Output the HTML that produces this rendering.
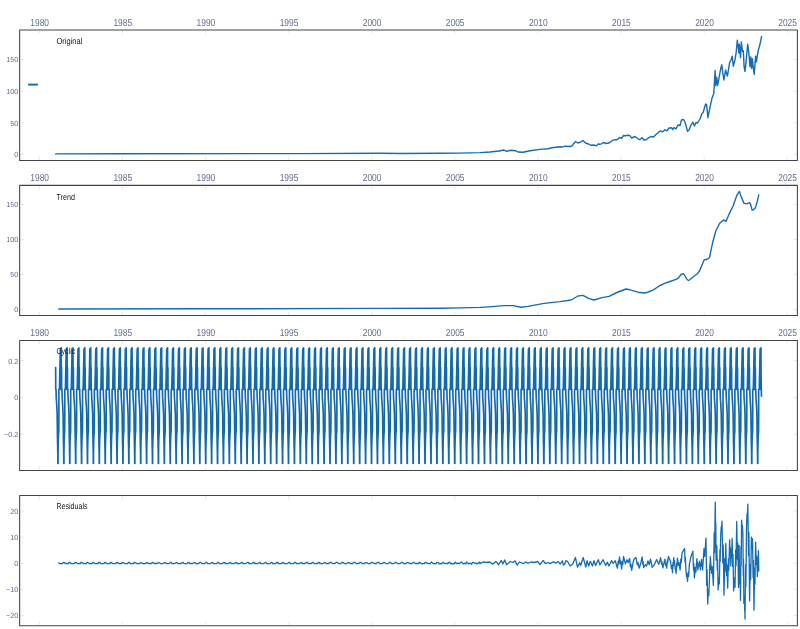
<!DOCTYPE html>
<html lang="en"><head><meta charset="utf-8"><title>Decomposition</title>
<style>
html,body{margin:0;padding:0;background:#fff;}
body{width:800px;height:629px;overflow:hidden;font-family:"Liberation Sans",sans-serif;}
svg{display:block}
svg text{font-family:"Liberation Sans",sans-serif;text-rendering:geometricPrecision;}
.tx text{font-size:10.2px;fill:#626d8c;}
.ty text{font-size:7.4px;fill:#626d8c;}
.an{font-size:8.7px;fill:#151515;}
</style></head><body>
<svg width="800" height="629" viewBox="0 0 800 629"><rect width="800" height="629" fill="#fff"/><g stroke="#e6e9f0" stroke-width="1" fill="none"><line x1="39.40" y1="30.50" x2="39.40" y2="33.70"/><line x1="39.40" y1="159.90" x2="39.40" y2="156.70"/><line x1="122.50" y1="30.50" x2="122.50" y2="33.70"/><line x1="122.50" y1="159.90" x2="122.50" y2="156.70"/><line x1="205.60" y1="30.50" x2="205.60" y2="33.70"/><line x1="205.60" y1="159.90" x2="205.60" y2="156.70"/><line x1="288.70" y1="30.50" x2="288.70" y2="33.70"/><line x1="288.70" y1="159.90" x2="288.70" y2="156.70"/><line x1="371.80" y1="30.50" x2="371.80" y2="33.70"/><line x1="371.80" y1="159.90" x2="371.80" y2="156.70"/><line x1="454.90" y1="30.50" x2="454.90" y2="33.70"/><line x1="454.90" y1="159.90" x2="454.90" y2="156.70"/><line x1="538.00" y1="30.50" x2="538.00" y2="33.70"/><line x1="538.00" y1="159.90" x2="538.00" y2="156.70"/><line x1="621.10" y1="30.50" x2="621.10" y2="33.70"/><line x1="621.10" y1="159.90" x2="621.10" y2="156.70"/><line x1="704.20" y1="30.50" x2="704.20" y2="33.70"/><line x1="704.20" y1="159.90" x2="704.20" y2="156.70"/><line x1="787.30" y1="30.50" x2="787.30" y2="33.70"/><line x1="787.30" y1="159.90" x2="787.30" y2="156.70"/><line x1="20.15" y1="154.40" x2="23.85" y2="154.40"/><line x1="796.90" y1="154.40" x2="793.20" y2="154.40"/><line x1="20.15" y1="122.74" x2="23.85" y2="122.74"/><line x1="796.90" y1="122.74" x2="793.20" y2="122.74"/><line x1="20.15" y1="91.07" x2="23.85" y2="91.07"/><line x1="796.90" y1="91.07" x2="793.20" y2="91.07"/><line x1="20.15" y1="59.41" x2="23.85" y2="59.41"/><line x1="796.90" y1="59.41" x2="793.20" y2="59.41"/></g><path d="M55.60,153.90 L124.00,153.70 L300.00,153.60 L380.00,153.30 L400.00,153.50 L440.00,153.30 L460.00,153.10 L480.00,152.60 L490.00,152.00 L499.00,151.00 L504.00,150.00 L506.50,151.30 L511.00,150.30 L515.50,150.70 L518.00,152.00 L523.00,152.20 L530.00,150.80 L540.00,149.40 L548.00,148.80 L552.00,147.80 L560.00,146.80 L562.00,147.20 L565.00,146.20 L570.00,146.50 L572.00,145.80 L575.50,141.50 L577.80,143.00 L580.50,142.20 L583.00,140.50 L585.50,143.00 L588.50,144.00 L591.00,145.30 L594.00,145.00 L596.50,145.80 L598.50,143.80 L600.00,144.50 L603.50,142.50 L606.00,143.50 L609.00,143.00 L612.00,140.70 L615.00,139.70 L617.00,139.80 L619.50,137.50 L621.50,138.30 L623.50,135.50 L625.50,135.80 L628.00,135.30 L630.00,135.60 L631.50,138.00 L635.00,136.50 L637.00,138.00 L639.50,139.80 L642.00,137.80 L644.00,140.00 L646.50,139.50 L648.50,137.80 L651.00,136.50 L653.50,137.00 L656.50,134.00 L660.50,130.80 L662.50,132.00 L665.00,129.80 L667.00,130.80 L669.00,128.00 L671.50,127.80 L672.80,129.50 L674.00,127.50 L676.00,128.80 L678.00,125.00 L680.00,125.50 L681.50,120.00 L683.50,119.50 L685.00,122.00 L687.50,131.20 L689.00,130.00 L691.00,125.00 L693.00,122.20 L694.50,126.00 L696.00,122.50 L697.50,123.00 L700.00,119.00 L702.00,113.60 L703.20,112.20 L705.60,104.00 L706.60,104.60 L707.90,117.80 L709.50,109.60 L712.00,98.20 L713.80,93.40 L715.10,70.50 L715.70,85.80 L716.70,77.20 L717.60,85.30 L718.60,80.50 L720.50,69.50 L721.80,64.80 L722.70,72.40 L723.90,80.00 L725.60,70.00 L727.40,76.10 L729.80,61.80 L731.00,60.20 L732.20,56.20 L733.30,66.20 L734.90,60.20 L736.10,53.00 L737.30,40.30 L738.10,45.90 L738.90,53.00 L739.30,44.30 L740.50,57.80 L741.30,41.90 L742.50,51.50 L743.30,50.70 L744.10,66.60 L745.00,71.30 L745.80,64.20 L747.70,44.30 L748.80,52.30 L750.00,66.60 L750.80,57.00 L751.60,68.20 L752.40,58.60 L753.20,67.40 L754.20,74.50 L755.60,56.20 L756.40,61.80 L757.20,56.20 L758.40,49.90 L760.00,44.30 L761.60,36.40" fill="none" stroke="#166cb1" stroke-width="1.4" stroke-linejoin="round" stroke-linecap="round"/><rect x="19.65" y="29.9" width="777.75" height="130.6" fill="none" stroke="#444444" stroke-width="1.05" stroke-linejoin="round"/><g class="tx"><text x="39.70" y="26" text-anchor="middle" textLength="18.7" lengthAdjust="spacingAndGlyphs">1980</text><text x="122.80" y="26" text-anchor="middle" textLength="18.7" lengthAdjust="spacingAndGlyphs">1985</text><text x="205.90" y="26" text-anchor="middle" textLength="18.7" lengthAdjust="spacingAndGlyphs">1990</text><text x="289.00" y="26" text-anchor="middle" textLength="18.7" lengthAdjust="spacingAndGlyphs">1995</text><text x="372.10" y="26" text-anchor="middle" textLength="18.7" lengthAdjust="spacingAndGlyphs">2000</text><text x="455.20" y="26" text-anchor="middle" textLength="18.7" lengthAdjust="spacingAndGlyphs">2005</text><text x="538.30" y="26" text-anchor="middle" textLength="18.7" lengthAdjust="spacingAndGlyphs">2010</text><text x="621.40" y="26" text-anchor="middle" textLength="18.7" lengthAdjust="spacingAndGlyphs">2015</text><text x="704.50" y="26" text-anchor="middle" textLength="18.7" lengthAdjust="spacingAndGlyphs">2020</text><text x="787.60" y="26" text-anchor="middle" textLength="18.7" lengthAdjust="spacingAndGlyphs">2025</text></g><g class="ty"><text x="18.15" y="157" text-anchor="end" textLength="4.00" lengthAdjust="spacingAndGlyphs">0</text><text x="18.15" y="126" text-anchor="end" textLength="8.00" lengthAdjust="spacingAndGlyphs">50</text><text x="18.15" y="94" text-anchor="end" textLength="12.00" lengthAdjust="spacingAndGlyphs">100</text><text x="18.15" y="62" text-anchor="end" textLength="12.00" lengthAdjust="spacingAndGlyphs">150</text></g><text class="an" x="56.5" y="44" textLength="25.8" lengthAdjust="spacingAndGlyphs">Original</text><g stroke="#e6e9f0" stroke-width="1" fill="none"><line x1="39.40" y1="185.95" x2="39.40" y2="189.15"/><line x1="39.40" y1="314.90" x2="39.40" y2="311.70"/><line x1="122.50" y1="185.95" x2="122.50" y2="189.15"/><line x1="122.50" y1="314.90" x2="122.50" y2="311.70"/><line x1="205.60" y1="185.95" x2="205.60" y2="189.15"/><line x1="205.60" y1="314.90" x2="205.60" y2="311.70"/><line x1="288.70" y1="185.95" x2="288.70" y2="189.15"/><line x1="288.70" y1="314.90" x2="288.70" y2="311.70"/><line x1="371.80" y1="185.95" x2="371.80" y2="189.15"/><line x1="371.80" y1="314.90" x2="371.80" y2="311.70"/><line x1="454.90" y1="185.95" x2="454.90" y2="189.15"/><line x1="454.90" y1="314.90" x2="454.90" y2="311.70"/><line x1="538.00" y1="185.95" x2="538.00" y2="189.15"/><line x1="538.00" y1="314.90" x2="538.00" y2="311.70"/><line x1="621.10" y1="185.95" x2="621.10" y2="189.15"/><line x1="621.10" y1="314.90" x2="621.10" y2="311.70"/><line x1="704.20" y1="185.95" x2="704.20" y2="189.15"/><line x1="704.20" y1="314.90" x2="704.20" y2="311.70"/><line x1="787.30" y1="185.95" x2="787.30" y2="189.15"/><line x1="787.30" y1="314.90" x2="787.30" y2="311.70"/><line x1="20.15" y1="309.40" x2="23.85" y2="309.40"/><line x1="796.90" y1="309.40" x2="793.20" y2="309.40"/><line x1="20.15" y1="274.40" x2="23.85" y2="274.40"/><line x1="796.90" y1="274.40" x2="793.20" y2="274.40"/><line x1="20.15" y1="239.40" x2="23.85" y2="239.40"/><line x1="796.90" y1="239.40" x2="793.20" y2="239.40"/><line x1="20.15" y1="204.40" x2="23.85" y2="204.40"/><line x1="796.90" y1="204.40" x2="793.20" y2="204.40"/></g><path d="M58.80,309.00 L200.00,308.80 L380.00,308.40 L440.00,308.20 L460.00,307.90 L480.00,307.40 L492.00,306.60 L504.00,305.60 L513.00,305.60 L521.00,307.20 L528.00,306.40 L544.00,303.40 L560.00,301.60 L571.00,300.00 L578.00,296.00 L583.00,295.40 L589.00,298.60 L594.00,300.00 L602.00,297.60 L609.00,296.40 L618.00,292.00 L626.00,289.00 L630.00,289.80 L638.00,292.20 L644.00,293.00 L647.00,292.50 L653.00,290.20 L660.00,285.50 L664.00,283.70 L670.00,281.50 L676.00,279.30 L678.50,277.80 L681.00,274.50 L683.20,273.70 L684.50,275.00 L687.00,279.50 L688.50,280.50 L690.00,279.50 L695.00,275.50 L697.50,273.70 L699.50,271.00 L702.00,265.00 L704.00,260.30 L705.00,259.50 L707.00,259.50 L709.50,257.50 L712.70,242.30 L715.90,230.80 L719.70,223.20 L723.50,220.00 L726.10,221.30 L729.30,213.60 L733.10,206.00 L736.90,195.20 L739.40,191.40 L741.30,197.10 L743.90,203.10 L746.40,203.80 L749.60,202.60 L750.90,205.40 L752.20,210.20 L753.40,209.80 L755.30,207.90 L757.30,201.50 L758.80,194.90" fill="none" stroke="#166cb1" stroke-width="1.4" stroke-linejoin="round" stroke-linecap="round"/><rect x="19.65" y="185.35" width="777.75" height="130.15" fill="none" stroke="#444444" stroke-width="1.05" stroke-linejoin="round"/><g class="tx"><text x="39.70" y="181" text-anchor="middle" textLength="18.7" lengthAdjust="spacingAndGlyphs">1980</text><text x="122.80" y="181" text-anchor="middle" textLength="18.7" lengthAdjust="spacingAndGlyphs">1985</text><text x="205.90" y="181" text-anchor="middle" textLength="18.7" lengthAdjust="spacingAndGlyphs">1990</text><text x="289.00" y="181" text-anchor="middle" textLength="18.7" lengthAdjust="spacingAndGlyphs">1995</text><text x="372.10" y="181" text-anchor="middle" textLength="18.7" lengthAdjust="spacingAndGlyphs">2000</text><text x="455.20" y="181" text-anchor="middle" textLength="18.7" lengthAdjust="spacingAndGlyphs">2005</text><text x="538.30" y="181" text-anchor="middle" textLength="18.7" lengthAdjust="spacingAndGlyphs">2010</text><text x="621.40" y="181" text-anchor="middle" textLength="18.7" lengthAdjust="spacingAndGlyphs">2015</text><text x="704.50" y="181" text-anchor="middle" textLength="18.7" lengthAdjust="spacingAndGlyphs">2020</text><text x="787.60" y="181" text-anchor="middle" textLength="18.7" lengthAdjust="spacingAndGlyphs">2025</text></g><g class="ty"><text x="18.15" y="312" text-anchor="end" textLength="4.00" lengthAdjust="spacingAndGlyphs">0</text><text x="18.15" y="277" text-anchor="end" textLength="8.00" lengthAdjust="spacingAndGlyphs">50</text><text x="18.15" y="242" text-anchor="end" textLength="12.00" lengthAdjust="spacingAndGlyphs">100</text><text x="18.15" y="207" text-anchor="end" textLength="12.00" lengthAdjust="spacingAndGlyphs">150</text></g><text class="an" x="56.5" y="200" textLength="18.4" lengthAdjust="spacingAndGlyphs">Trend</text><g stroke="#e6e9f0" stroke-width="1" fill="none"><line x1="39.40" y1="341.05" x2="39.40" y2="344.25"/><line x1="39.40" y1="469.95" x2="39.40" y2="466.75"/><line x1="122.50" y1="341.05" x2="122.50" y2="344.25"/><line x1="122.50" y1="469.95" x2="122.50" y2="466.75"/><line x1="205.60" y1="341.05" x2="205.60" y2="344.25"/><line x1="205.60" y1="469.95" x2="205.60" y2="466.75"/><line x1="288.70" y1="341.05" x2="288.70" y2="344.25"/><line x1="288.70" y1="469.95" x2="288.70" y2="466.75"/><line x1="371.80" y1="341.05" x2="371.80" y2="344.25"/><line x1="371.80" y1="469.95" x2="371.80" y2="466.75"/><line x1="454.90" y1="341.05" x2="454.90" y2="344.25"/><line x1="454.90" y1="469.95" x2="454.90" y2="466.75"/><line x1="538.00" y1="341.05" x2="538.00" y2="344.25"/><line x1="538.00" y1="469.95" x2="538.00" y2="466.75"/><line x1="621.10" y1="341.05" x2="621.10" y2="344.25"/><line x1="621.10" y1="469.95" x2="621.10" y2="466.75"/><line x1="704.20" y1="341.05" x2="704.20" y2="344.25"/><line x1="704.20" y1="469.95" x2="704.20" y2="466.75"/><line x1="787.30" y1="341.05" x2="787.30" y2="344.25"/><line x1="787.30" y1="469.95" x2="787.30" y2="466.75"/><line x1="20.15" y1="434.40" x2="23.85" y2="434.40"/><line x1="796.90" y1="434.40" x2="793.20" y2="434.40"/><line x1="20.15" y1="397.40" x2="23.85" y2="397.40"/><line x1="796.90" y1="397.40" x2="793.20" y2="397.40"/><line x1="20.15" y1="360.40" x2="23.85" y2="360.40"/><line x1="796.90" y1="360.40" x2="793.20" y2="360.40"/></g><path d="M55.60,367.70 L55.63,367.61 L55.73,389.38 L56.03,389.38 L56.23,397.80 L56.73,405.12 L57.13,413.36 L57.38,432.57 L57.58,443.55 L57.78,452.70 L57.86,463.41 L58.04,463.41 L58.04,452.70 L58.19,443.55 L58.49,434.40 L58.79,431.66 L58.89,416.10 L58.89,389.38 L59.49,389.38 L60.34,348.94 L60.72,389.38 L60.99,389.38 L61.16,347.75 L61.29,375.84 L61.54,367.61 L61.64,389.38 L61.94,389.38 L62.14,397.80 L62.64,405.12 L63.04,413.36 L63.29,432.57 L63.49,443.55 L63.69,452.70 L63.77,463.41 L63.95,463.41 L63.95,452.70 L64.10,443.55 L64.40,434.40 L64.70,431.66 L64.80,416.10 L64.80,389.38 L65.40,389.38 L66.25,348.94 L66.63,389.38 L66.90,389.38 L67.07,347.75 L67.20,375.84 L67.45,367.61 L67.55,389.38 L67.85,389.38 L68.05,397.80 L68.55,405.12 L68.95,413.36 L69.20,432.57 L69.40,443.55 L69.60,452.70 L69.68,463.41 L69.86,463.41 L69.86,452.70 L70.01,443.55 L70.31,434.40 L70.61,431.66 L70.71,416.10 L70.71,389.38 L71.31,389.38 L72.16,348.94 L72.54,389.38 L72.81,389.38 L72.98,347.75 L73.11,375.84 L73.36,367.61 L73.46,389.38 L73.76,389.38 L73.96,397.80 L74.46,405.12 L74.86,413.36 L75.11,432.57 L75.31,443.55 L75.51,452.70 L75.59,463.41 L75.77,463.41 L75.77,452.70 L75.92,443.55 L76.22,434.40 L76.52,431.66 L76.62,416.10 L76.62,389.38 L77.22,389.38 L78.07,348.94 L78.45,389.38 L78.72,389.38 L78.89,347.75 L79.02,375.84 L79.27,367.61 L79.37,389.38 L79.67,389.38 L79.87,397.80 L80.37,405.12 L80.77,413.36 L81.02,432.57 L81.22,443.55 L81.42,452.70 L81.50,463.41 L81.68,463.41 L81.68,452.70 L81.83,443.55 L82.13,434.40 L82.43,431.66 L82.53,416.10 L82.53,389.38 L83.13,389.38 L83.98,348.94 L84.36,389.38 L84.63,389.38 L84.80,347.75 L84.93,375.84 L85.18,367.61 L85.28,389.38 L85.58,389.38 L85.78,397.80 L86.28,405.12 L86.68,413.36 L86.93,432.57 L87.13,443.55 L87.33,452.70 L87.41,463.41 L87.59,463.41 L87.59,452.70 L87.74,443.55 L88.04,434.40 L88.34,431.66 L88.44,416.10 L88.44,389.38 L89.04,389.38 L89.89,348.94 L90.27,389.38 L90.54,389.38 L90.71,347.75 L90.84,375.84 L91.09,367.61 L91.19,389.38 L91.49,389.38 L91.69,397.80 L92.19,405.12 L92.59,413.36 L92.84,432.57 L93.04,443.55 L93.24,452.70 L93.32,463.41 L93.50,463.41 L93.50,452.70 L93.65,443.55 L93.95,434.40 L94.25,431.66 L94.35,416.10 L94.35,389.38 L94.95,389.38 L95.80,348.94 L96.18,389.38 L96.45,389.38 L96.62,347.75 L96.75,375.84 L97.00,367.61 L97.10,389.38 L97.40,389.38 L97.60,397.80 L98.10,405.12 L98.50,413.36 L98.75,432.57 L98.95,443.55 L99.15,452.70 L99.23,463.41 L99.41,463.41 L99.41,452.70 L99.56,443.55 L99.86,434.40 L100.16,431.66 L100.26,416.10 L100.26,389.38 L100.86,389.38 L101.71,348.94 L102.09,389.38 L102.36,389.38 L102.53,347.75 L102.66,375.84 L102.91,367.61 L103.01,389.38 L103.31,389.38 L103.51,397.80 L104.01,405.12 L104.41,413.36 L104.66,432.57 L104.86,443.55 L105.06,452.70 L105.14,463.41 L105.32,463.41 L105.32,452.70 L105.47,443.55 L105.77,434.40 L106.07,431.66 L106.17,416.10 L106.17,389.38 L106.77,389.38 L107.62,348.94 L108.00,389.38 L108.27,389.38 L108.44,347.75 L108.57,375.84 L108.82,367.61 L108.92,389.38 L109.22,389.38 L109.42,397.80 L109.92,405.12 L110.32,413.36 L110.57,432.57 L110.77,443.55 L110.97,452.70 L111.05,463.41 L111.24,463.41 L111.24,452.70 L111.39,443.55 L111.69,434.40 L111.99,431.66 L112.09,416.10 L112.09,389.38 L112.69,389.38 L113.54,348.94 L113.92,389.38 L114.19,389.38 L114.36,347.75 L114.49,375.84 L114.74,367.61 L114.84,389.38 L115.14,389.38 L115.34,397.80 L115.84,405.12 L116.24,413.36 L116.49,432.57 L116.69,443.55 L116.89,452.70 L116.97,463.41 L117.15,463.41 L117.15,452.70 L117.30,443.55 L117.60,434.40 L117.90,431.66 L118.00,416.10 L118.00,389.38 L118.60,389.38 L119.45,348.94 L119.83,389.38 L120.10,389.38 L120.27,347.75 L120.40,375.84 L120.65,367.61 L120.75,389.38 L121.05,389.38 L121.25,397.80 L121.75,405.12 L122.15,413.36 L122.40,432.57 L122.60,443.55 L122.80,452.70 L122.88,463.41 L123.06,463.41 L123.06,452.70 L123.21,443.55 L123.51,434.40 L123.81,431.66 L123.91,416.10 L123.91,389.38 L124.51,389.38 L125.36,348.94 L125.74,389.38 L126.01,389.38 L126.18,347.75 L126.31,375.84 L126.56,367.61 L126.66,389.38 L126.96,389.38 L127.16,397.80 L127.66,405.12 L128.06,413.36 L128.31,432.57 L128.51,443.55 L128.71,452.70 L128.79,463.41 L128.97,463.41 L128.97,452.70 L129.12,443.55 L129.42,434.40 L129.72,431.66 L129.82,416.10 L129.82,389.38 L130.42,389.38 L131.27,348.94 L131.65,389.38 L131.92,389.38 L132.09,347.75 L132.22,375.84 L132.47,367.61 L132.57,389.38 L132.87,389.38 L133.07,397.80 L133.57,405.12 L133.97,413.36 L134.22,432.57 L134.42,443.55 L134.62,452.70 L134.70,463.41 L134.88,463.41 L134.88,452.70 L135.03,443.55 L135.33,434.40 L135.63,431.66 L135.73,416.10 L135.73,389.38 L136.33,389.38 L137.18,348.94 L137.56,389.38 L137.83,389.38 L138.00,347.75 L138.13,375.84 L138.38,367.61 L138.48,389.38 L138.78,389.38 L138.98,397.80 L139.48,405.12 L139.88,413.36 L140.13,432.57 L140.33,443.55 L140.53,452.70 L140.61,463.41 L140.79,463.41 L140.79,452.70 L140.94,443.55 L141.24,434.40 L141.54,431.66 L141.64,416.10 L141.64,389.38 L142.24,389.38 L143.09,348.94 L143.47,389.38 L143.74,389.38 L143.91,347.75 L144.04,375.84 L144.29,367.61 L144.39,389.38 L144.69,389.38 L144.89,397.80 L145.39,405.12 L145.79,413.36 L146.04,432.57 L146.24,443.55 L146.44,452.70 L146.52,463.41 L146.70,463.41 L146.70,452.70 L146.85,443.55 L147.15,434.40 L147.45,431.66 L147.55,416.10 L147.55,389.38 L148.15,389.38 L149.00,348.94 L149.38,389.38 L149.65,389.38 L149.82,347.75 L149.95,375.84 L150.20,367.61 L150.30,389.38 L150.60,389.38 L150.80,397.80 L151.30,405.12 L151.70,413.36 L151.95,432.57 L152.15,443.55 L152.35,452.70 L152.43,463.41 L152.61,463.41 L152.61,452.70 L152.76,443.55 L153.06,434.40 L153.36,431.66 L153.46,416.10 L153.46,389.38 L154.06,389.38 L154.91,348.94 L155.29,389.38 L155.56,389.38 L155.73,347.75 L155.86,375.84 L156.11,367.61 L156.21,389.38 L156.51,389.38 L156.71,397.80 L157.21,405.12 L157.61,413.36 L157.86,432.57 L158.06,443.55 L158.26,452.70 L158.34,463.41 L158.52,463.41 L158.52,452.70 L158.67,443.55 L158.97,434.40 L159.27,431.66 L159.37,416.10 L159.37,389.38 L159.97,389.38 L160.82,348.94 L161.20,389.38 L161.47,389.38 L161.64,347.75 L161.77,375.84 L162.02,367.61 L162.12,389.38 L162.42,389.38 L162.62,397.80 L163.12,405.12 L163.52,413.36 L163.77,432.57 L163.97,443.55 L164.17,452.70 L164.25,463.41 L164.43,463.41 L164.43,452.70 L164.58,443.55 L164.88,434.40 L165.18,431.66 L165.28,416.10 L165.28,389.38 L165.88,389.38 L166.73,348.94 L167.11,389.38 L167.38,389.38 L167.55,347.75 L167.68,375.84 L167.93,367.61 L168.03,389.38 L168.33,389.38 L168.53,397.80 L169.03,405.12 L169.43,413.36 L169.68,432.57 L169.88,443.55 L170.08,452.70 L170.16,463.41 L170.34,463.41 L170.34,452.70 L170.49,443.55 L170.79,434.40 L171.09,431.66 L171.19,416.10 L171.19,389.38 L171.79,389.38 L172.64,348.94 L173.02,389.38 L173.29,389.38 L173.46,347.75 L173.59,375.84 L173.84,367.61 L173.94,389.38 L174.24,389.38 L174.44,397.80 L174.94,405.12 L175.34,413.36 L175.59,432.57 L175.79,443.55 L175.99,452.70 L176.07,463.41 L176.25,463.41 L176.25,452.70 L176.40,443.55 L176.70,434.40 L177.00,431.66 L177.10,416.10 L177.10,389.38 L177.70,389.38 L178.55,348.94 L178.93,389.38 L179.20,389.38 L179.37,347.75 L179.50,375.84 L179.75,367.61 L179.85,389.38 L180.15,389.38 L180.35,397.80 L180.85,405.12 L181.25,413.36 L181.50,432.57 L181.70,443.55 L181.90,452.70 L181.98,463.41 L182.16,463.41 L182.16,452.70 L182.31,443.55 L182.61,434.40 L182.91,431.66 L183.01,416.10 L183.01,389.38 L183.61,389.38 L184.46,348.94 L184.84,389.38 L185.11,389.38 L185.28,347.75 L185.41,375.84 L185.66,367.61 L185.76,389.38 L186.06,389.38 L186.26,397.80 L186.76,405.12 L187.16,413.36 L187.41,432.57 L187.61,443.55 L187.81,452.70 L187.89,463.41 L188.07,463.41 L188.07,452.70 L188.22,443.55 L188.52,434.40 L188.82,431.66 L188.92,416.10 L188.92,389.38 L189.52,389.38 L190.37,348.94 L190.75,389.38 L191.02,389.38 L191.19,347.75 L191.32,375.84 L191.57,367.61 L191.67,389.38 L191.97,389.38 L192.17,397.80 L192.67,405.12 L193.07,413.36 L193.32,432.57 L193.52,443.55 L193.72,452.70 L193.80,463.41 L193.98,463.41 L193.98,452.70 L194.13,443.55 L194.43,434.40 L194.73,431.66 L194.83,416.10 L194.83,389.38 L195.43,389.38 L196.28,348.94 L196.66,389.38 L196.93,389.38 L197.10,347.75 L197.23,375.84 L197.48,367.61 L197.58,389.38 L197.88,389.38 L198.08,397.80 L198.58,405.12 L198.98,413.36 L199.23,432.57 L199.43,443.55 L199.63,452.70 L199.71,463.41 L199.90,463.41 L199.90,452.70 L200.05,443.55 L200.35,434.40 L200.65,431.66 L200.75,416.10 L200.75,389.38 L201.35,389.38 L202.20,348.94 L202.58,389.38 L202.85,389.38 L203.02,347.75 L203.15,375.84 L203.40,367.61 L203.50,389.38 L203.80,389.38 L204.00,397.80 L204.50,405.12 L204.90,413.36 L205.15,432.57 L205.35,443.55 L205.55,452.70 L205.63,463.41 L205.81,463.41 L205.81,452.70 L205.96,443.55 L206.26,434.40 L206.56,431.66 L206.66,416.10 L206.66,389.38 L207.26,389.38 L208.11,348.94 L208.49,389.38 L208.76,389.38 L208.93,347.75 L209.06,375.84 L209.31,367.61 L209.41,389.38 L209.71,389.38 L209.91,397.80 L210.41,405.12 L210.81,413.36 L211.06,432.57 L211.26,443.55 L211.46,452.70 L211.54,463.41 L211.72,463.41 L211.72,452.70 L211.87,443.55 L212.17,434.40 L212.47,431.66 L212.57,416.10 L212.57,389.38 L213.17,389.38 L214.02,348.94 L214.40,389.38 L214.67,389.38 L214.84,347.75 L214.97,375.84 L215.22,367.61 L215.32,389.38 L215.62,389.38 L215.82,397.80 L216.32,405.12 L216.72,413.36 L216.97,432.57 L217.17,443.55 L217.37,452.70 L217.45,463.41 L217.63,463.41 L217.63,452.70 L217.78,443.55 L218.08,434.40 L218.38,431.66 L218.48,416.10 L218.48,389.38 L219.08,389.38 L219.93,348.94 L220.31,389.38 L220.58,389.38 L220.75,347.75 L220.88,375.84 L221.13,367.61 L221.23,389.38 L221.53,389.38 L221.73,397.80 L222.23,405.12 L222.63,413.36 L222.88,432.57 L223.08,443.55 L223.28,452.70 L223.36,463.41 L223.54,463.41 L223.54,452.70 L223.69,443.55 L223.99,434.40 L224.29,431.66 L224.39,416.10 L224.39,389.38 L224.99,389.38 L225.84,348.94 L226.22,389.38 L226.49,389.38 L226.66,347.75 L226.79,375.84 L227.04,367.61 L227.14,389.38 L227.44,389.38 L227.64,397.80 L228.14,405.12 L228.54,413.36 L228.79,432.57 L228.99,443.55 L229.19,452.70 L229.27,463.41 L229.45,463.41 L229.45,452.70 L229.60,443.55 L229.90,434.40 L230.20,431.66 L230.30,416.10 L230.30,389.38 L230.90,389.38 L231.75,348.94 L232.13,389.38 L232.40,389.38 L232.57,347.75 L232.70,375.84 L232.95,367.61 L233.05,389.38 L233.35,389.38 L233.55,397.80 L234.05,405.12 L234.45,413.36 L234.70,432.57 L234.90,443.55 L235.10,452.70 L235.18,463.41 L235.36,463.41 L235.36,452.70 L235.51,443.55 L235.81,434.40 L236.11,431.66 L236.21,416.10 L236.21,389.38 L236.81,389.38 L237.66,348.94 L238.04,389.38 L238.31,389.38 L238.48,347.75 L238.61,375.84 L238.86,367.61 L238.96,389.38 L239.26,389.38 L239.46,397.80 L239.96,405.12 L240.36,413.36 L240.61,432.57 L240.81,443.55 L241.01,452.70 L241.09,463.41 L241.27,463.41 L241.27,452.70 L241.42,443.55 L241.72,434.40 L242.02,431.66 L242.12,416.10 L242.12,389.38 L242.72,389.38 L243.57,348.94 L243.95,389.38 L244.22,389.38 L244.39,347.75 L244.52,375.84 L244.77,367.61 L244.87,389.38 L245.17,389.38 L245.37,397.80 L245.87,405.12 L246.27,413.36 L246.52,432.57 L246.72,443.55 L246.92,452.70 L247.00,463.41 L247.18,463.41 L247.18,452.70 L247.33,443.55 L247.63,434.40 L247.93,431.66 L248.03,416.10 L248.03,389.38 L248.63,389.38 L249.48,348.94 L249.86,389.38 L250.13,389.38 L250.30,347.75 L250.43,375.84 L250.68,367.61 L250.78,389.38 L251.08,389.38 L251.28,397.80 L251.78,405.12 L252.18,413.36 L252.43,432.57 L252.63,443.55 L252.83,452.70 L252.91,463.41 L253.09,463.41 L253.09,452.70 L253.24,443.55 L253.54,434.40 L253.84,431.66 L253.94,416.10 L253.94,389.38 L254.54,389.38 L255.39,348.94 L255.77,389.38 L256.04,389.38 L256.21,347.75 L256.34,375.84 L256.59,367.61 L256.69,389.38 L256.99,389.38 L257.19,397.80 L257.69,405.12 L258.09,413.36 L258.34,432.57 L258.54,443.55 L258.74,452.70 L258.82,463.41 L259.00,463.41 L259.00,452.70 L259.15,443.55 L259.45,434.40 L259.75,431.66 L259.85,416.10 L259.85,389.38 L260.45,389.38 L261.30,348.94 L261.68,389.38 L261.95,389.38 L262.12,347.75 L262.25,375.84 L262.50,367.61 L262.60,389.38 L262.90,389.38 L263.10,397.80 L263.60,405.12 L264.00,413.36 L264.25,432.57 L264.45,443.55 L264.65,452.70 L264.73,463.41 L264.91,463.41 L264.91,452.70 L265.06,443.55 L265.36,434.40 L265.66,431.66 L265.76,416.10 L265.76,389.38 L266.36,389.38 L267.21,348.94 L267.59,389.38 L267.86,389.38 L268.03,347.75 L268.16,375.84 L268.41,367.61 L268.51,389.38 L268.81,389.38 L269.01,397.80 L269.51,405.12 L269.91,413.36 L270.16,432.57 L270.36,443.55 L270.56,452.70 L270.64,463.41 L270.82,463.41 L270.82,452.70 L270.97,443.55 L271.27,434.40 L271.57,431.66 L271.67,416.10 L271.67,389.38 L272.27,389.38 L273.12,348.94 L273.50,389.38 L273.77,389.38 L273.94,347.75 L274.07,375.84 L274.32,367.61 L274.42,389.38 L274.72,389.38 L274.92,397.80 L275.42,405.12 L275.82,413.36 L276.07,432.57 L276.27,443.55 L276.47,452.70 L276.55,463.41 L276.74,463.41 L276.74,452.70 L276.89,443.55 L277.19,434.40 L277.49,431.66 L277.59,416.10 L277.59,389.38 L278.19,389.38 L279.04,348.94 L279.42,389.38 L279.69,389.38 L279.86,347.75 L279.99,375.84 L280.24,367.61 L280.34,389.38 L280.64,389.38 L280.84,397.80 L281.34,405.12 L281.74,413.36 L281.99,432.57 L282.19,443.55 L282.39,452.70 L282.47,463.41 L282.67,463.41 L282.67,452.70 L282.82,443.55 L283.12,434.40 L283.42,431.66 L283.52,416.10 L283.52,389.38 L284.12,389.38 L284.97,348.94 L285.35,389.38 L285.62,389.38 L285.79,347.75 L285.92,375.84 L286.17,367.61 L286.27,389.38 L286.57,389.38 L286.77,397.80 L287.27,405.12 L287.67,413.36 L287.92,432.57 L288.12,443.55 L288.32,452.70 L288.40,463.41 L288.60,463.41 L288.60,452.70 L288.75,443.55 L289.05,434.40 L289.35,431.66 L289.45,416.10 L289.45,389.38 L290.05,389.38 L290.90,348.94 L291.28,389.38 L291.55,389.38 L291.72,347.75 L291.85,375.84 L292.10,367.61 L292.20,389.38 L292.50,389.38 L292.70,397.80 L293.20,405.12 L293.60,413.36 L293.85,432.57 L294.05,443.55 L294.25,452.70 L294.33,463.41 L294.53,463.41 L294.53,452.70 L294.68,443.55 L294.98,434.40 L295.28,431.66 L295.38,416.10 L295.38,389.38 L295.98,389.38 L296.83,348.94 L297.21,389.38 L297.48,389.38 L297.65,347.75 L297.78,375.84 L298.03,367.61 L298.13,389.38 L298.43,389.38 L298.63,397.80 L299.13,405.12 L299.53,413.36 L299.78,432.57 L299.98,443.55 L300.18,452.70 L300.26,463.41 L300.46,463.41 L300.46,452.70 L300.61,443.55 L300.91,434.40 L301.21,431.66 L301.31,416.10 L301.31,389.38 L301.91,389.38 L302.76,348.94 L303.14,389.38 L303.41,389.38 L303.58,347.75 L303.71,375.84 L303.96,367.61 L304.06,389.38 L304.36,389.38 L304.56,397.80 L305.06,405.12 L305.46,413.36 L305.71,432.57 L305.91,443.55 L306.11,452.70 L306.19,463.41 L306.39,463.41 L306.39,452.70 L306.54,443.55 L306.84,434.40 L307.14,431.66 L307.24,416.10 L307.24,389.38 L307.84,389.38 L308.69,348.94 L309.07,389.38 L309.34,389.38 L309.51,347.75 L309.64,375.84 L309.89,367.61 L309.99,389.38 L310.29,389.38 L310.49,397.80 L310.99,405.12 L311.39,413.36 L311.64,432.57 L311.84,443.55 L312.04,452.70 L312.12,463.41 L312.32,463.41 L312.32,452.70 L312.47,443.55 L312.77,434.40 L313.07,431.66 L313.17,416.10 L313.17,389.38 L313.77,389.38 L314.62,348.94 L315.00,389.38 L315.27,389.38 L315.44,347.75 L315.57,375.84 L315.82,367.61 L315.92,389.38 L316.22,389.38 L316.42,397.80 L316.92,405.12 L317.32,413.36 L317.57,432.57 L317.77,443.55 L317.97,452.70 L318.05,463.41 L318.25,463.41 L318.25,452.70 L318.40,443.55 L318.70,434.40 L319.00,431.66 L319.10,416.10 L319.10,389.38 L319.70,389.38 L320.55,348.94 L320.93,389.38 L321.20,389.38 L321.37,347.75 L321.50,375.84 L321.75,367.61 L321.85,389.38 L322.15,389.38 L322.35,397.80 L322.85,405.12 L323.25,413.36 L323.50,432.57 L323.70,443.55 L323.90,452.70 L323.98,463.41 L324.18,463.41 L324.18,452.70 L324.33,443.55 L324.63,434.40 L324.93,431.66 L325.03,416.10 L325.03,389.38 L325.63,389.38 L326.48,348.94 L326.86,389.38 L327.13,389.38 L327.30,347.75 L327.43,375.84 L327.68,367.61 L327.78,389.38 L328.08,389.38 L328.28,397.80 L328.78,405.12 L329.18,413.36 L329.43,432.57 L329.63,443.55 L329.83,452.70 L329.91,463.41 L330.11,463.41 L330.11,452.70 L330.26,443.55 L330.56,434.40 L330.86,431.66 L330.96,416.10 L330.96,389.38 L331.56,389.38 L332.41,348.94 L332.79,389.38 L333.06,389.38 L333.23,347.75 L333.36,375.84 L333.61,367.61 L333.71,389.38 L334.01,389.38 L334.21,397.80 L334.71,405.12 L335.11,413.36 L335.36,432.57 L335.56,443.55 L335.76,452.70 L335.84,463.41 L336.04,463.41 L336.04,452.70 L336.19,443.55 L336.49,434.40 L336.79,431.66 L336.89,416.10 L336.89,389.38 L337.49,389.38 L338.34,348.94 L338.72,389.38 L338.99,389.38 L339.16,347.75 L339.29,375.84 L339.54,367.61 L339.64,389.38 L339.94,389.38 L340.14,397.80 L340.64,405.12 L341.04,413.36 L341.29,432.57 L341.49,443.55 L341.69,452.70 L341.77,463.41 L341.97,463.41 L341.97,452.70 L342.12,443.55 L342.42,434.40 L342.72,431.66 L342.82,416.10 L342.82,389.38 L343.42,389.38 L344.27,348.94 L344.65,389.38 L344.92,389.38 L345.09,347.75 L345.22,375.84 L345.47,367.61 L345.57,389.38 L345.87,389.38 L346.07,397.80 L346.57,405.12 L346.97,413.36 L347.22,432.57 L347.42,443.55 L347.62,452.70 L347.70,463.41 L347.90,463.41 L347.90,452.70 L348.05,443.55 L348.35,434.40 L348.65,431.66 L348.75,416.10 L348.75,389.38 L349.35,389.38 L350.20,348.94 L350.58,389.38 L350.85,389.38 L351.02,347.75 L351.15,375.84 L351.40,367.61 L351.50,389.38 L351.80,389.38 L352.00,397.80 L352.50,405.12 L352.90,413.36 L353.15,432.57 L353.35,443.55 L353.55,452.70 L353.63,463.41 L353.83,463.41 L353.83,452.70 L353.98,443.55 L354.28,434.40 L354.58,431.66 L354.68,416.10 L354.68,389.38 L355.28,389.38 L356.13,348.94 L356.51,389.38 L356.78,389.38 L356.95,347.75 L357.08,375.84 L357.33,367.61 L357.43,389.38 L357.73,389.38 L357.93,397.80 L358.43,405.12 L358.83,413.36 L359.08,432.57 L359.28,443.55 L359.48,452.70 L359.56,463.41 L359.76,463.41 L359.76,452.70 L359.91,443.55 L360.21,434.40 L360.51,431.66 L360.61,416.10 L360.61,389.38 L361.21,389.38 L362.06,348.94 L362.44,389.38 L362.71,389.38 L362.88,347.75 L363.01,375.84 L363.26,367.61 L363.36,389.38 L363.66,389.38 L363.86,397.80 L364.36,405.12 L364.76,413.36 L365.01,432.57 L365.21,443.55 L365.41,452.70 L365.49,463.41 L365.69,463.41 L365.69,452.70 L365.84,443.55 L366.14,434.40 L366.44,431.66 L366.54,416.10 L366.54,389.38 L367.14,389.38 L367.99,348.94 L368.37,389.38 L368.64,389.38 L368.81,347.75 L368.94,375.84 L369.19,367.61 L369.29,389.38 L369.59,389.38 L369.79,397.80 L370.29,405.12 L370.69,413.36 L370.94,432.57 L371.14,443.55 L371.34,452.70 L371.42,463.41 L371.62,463.41 L371.62,452.70 L371.77,443.55 L372.07,434.40 L372.37,431.66 L372.47,416.10 L372.47,389.38 L373.07,389.38 L373.92,348.94 L374.30,389.38 L374.57,389.38 L374.74,347.75 L374.87,375.84 L375.12,367.61 L375.22,389.38 L375.52,389.38 L375.72,397.80 L376.22,405.12 L376.62,413.36 L376.87,432.57 L377.07,443.55 L377.27,452.70 L377.35,463.41 L377.55,463.41 L377.55,452.70 L377.70,443.55 L378.00,434.40 L378.30,431.66 L378.40,416.10 L378.40,389.38 L379.00,389.38 L379.85,348.94 L380.23,389.38 L380.50,389.38 L380.67,347.75 L380.80,375.84 L381.05,367.61 L381.15,389.38 L381.45,389.38 L381.65,397.80 L382.15,405.12 L382.55,413.36 L382.80,432.57 L383.00,443.55 L383.20,452.70 L383.28,463.41 L383.48,463.41 L383.48,452.70 L383.63,443.55 L383.93,434.40 L384.23,431.66 L384.33,416.10 L384.33,389.38 L384.93,389.38 L385.78,348.94 L386.16,389.38 L386.43,389.38 L386.60,347.75 L386.73,375.84 L386.98,367.61 L387.08,389.38 L387.38,389.38 L387.58,397.80 L388.08,405.12 L388.48,413.36 L388.73,432.57 L388.93,443.55 L389.13,452.70 L389.21,463.41 L389.44,463.41 L389.44,452.70 L389.59,443.55 L389.89,434.40 L390.19,431.66 L390.29,416.10 L390.29,389.38 L390.89,389.38 L391.74,348.94 L392.12,389.38 L392.39,389.38 L392.56,347.75 L392.69,375.84 L392.94,367.61 L393.04,389.38 L393.34,389.38 L393.54,397.80 L394.04,405.12 L394.44,413.36 L394.69,432.57 L394.89,443.55 L395.09,452.70 L395.17,463.41 L395.41,463.41 L395.41,452.70 L395.56,443.55 L395.86,434.40 L396.16,431.66 L396.26,416.10 L396.26,389.38 L396.86,389.38 L397.71,348.94 L398.09,389.38 L398.36,389.38 L398.53,347.75 L398.66,375.84 L398.91,367.61 L399.01,389.38 L399.31,389.38 L399.51,397.80 L400.01,405.12 L400.41,413.36 L400.66,432.57 L400.86,443.55 L401.06,452.70 L401.14,463.41 L401.37,463.41 L401.37,452.70 L401.52,443.55 L401.82,434.40 L402.12,431.66 L402.22,416.10 L402.22,389.38 L402.82,389.38 L403.67,348.94 L404.05,389.38 L404.32,389.38 L404.49,347.75 L404.62,375.84 L404.87,367.61 L404.97,389.38 L405.27,389.38 L405.47,397.80 L405.97,405.12 L406.37,413.36 L406.62,432.57 L406.82,443.55 L407.02,452.70 L407.10,463.41 L407.32,463.41 L407.32,452.70 L407.47,443.55 L407.77,434.40 L408.07,431.66 L408.17,416.10 L408.17,389.38 L408.77,389.38 L409.62,348.94 L410.00,389.38 L410.27,389.38 L410.44,347.75 L410.57,375.84 L410.82,367.61 L410.92,389.38 L411.22,389.38 L411.42,397.80 L411.92,405.12 L412.32,413.36 L412.57,432.57 L412.77,443.55 L412.97,452.70 L413.05,463.41 L413.26,463.41 L413.26,452.70 L413.41,443.55 L413.71,434.40 L414.01,431.66 L414.12,416.10 L414.12,389.38 L414.71,389.38 L415.56,348.94 L415.94,389.38 L416.21,389.38 L416.38,347.75 L416.51,375.84 L416.76,367.61 L416.87,389.38 L417.16,389.38 L417.37,397.80 L417.87,405.12 L418.26,413.36 L418.51,432.57 L418.71,443.55 L418.91,452.70 L419.00,463.41 L419.21,463.41 L419.21,452.70 L419.36,443.55 L419.66,434.40 L419.96,431.66 L420.06,416.10 L420.06,389.38 L420.66,389.38 L421.51,348.94 L421.89,389.38 L422.16,389.38 L422.33,347.75 L422.46,375.84 L422.71,367.61 L422.81,389.38 L423.11,389.38 L423.31,397.80 L423.81,405.12 L424.21,413.36 L424.46,432.57 L424.66,443.55 L424.86,452.70 L424.94,463.41 L425.15,463.41 L425.15,452.70 L425.30,443.55 L425.60,434.40 L425.90,431.66 L426.00,416.10 L426.00,389.38 L426.60,389.38 L427.45,348.94 L427.83,389.38 L428.10,389.38 L428.27,347.75 L428.40,375.84 L428.65,367.61 L428.75,389.38 L429.05,389.38 L429.25,397.80 L429.75,405.12 L430.15,413.36 L430.40,432.57 L430.60,443.55 L430.80,452.70 L430.88,463.41 L431.09,463.41 L431.09,452.70 L431.24,443.55 L431.54,434.40 L431.84,431.66 L431.94,416.10 L431.94,389.38 L432.54,389.38 L433.39,348.94 L433.77,389.38 L434.04,389.38 L434.21,347.75 L434.34,375.84 L434.59,367.61 L434.69,389.38 L434.99,389.38 L435.19,397.80 L435.69,405.12 L436.09,413.36 L436.34,432.57 L436.54,443.55 L436.74,452.70 L436.82,463.41 L437.04,463.41 L437.04,452.70 L437.19,443.55 L437.49,434.40 L437.79,431.66 L437.89,416.10 L437.89,389.38 L438.49,389.38 L439.34,348.94 L439.72,389.38 L439.99,389.38 L440.16,347.75 L440.29,375.84 L440.54,367.61 L440.64,389.38 L440.94,389.38 L441.14,397.80 L441.64,405.12 L442.04,413.36 L442.29,432.57 L442.49,443.55 L442.69,452.70 L442.77,463.41 L442.98,463.41 L442.98,452.70 L443.13,443.55 L443.43,434.40 L443.73,431.66 L443.83,416.10 L443.83,389.38 L444.43,389.38 L445.28,348.94 L445.66,389.38 L445.93,389.38 L446.10,347.75 L446.23,375.84 L446.48,367.61 L446.58,389.38 L446.88,389.38 L447.08,397.80 L447.58,405.12 L447.98,413.36 L448.23,432.57 L448.43,443.55 L448.63,452.70 L448.71,463.41 L448.92,463.41 L448.92,452.70 L449.07,443.55 L449.37,434.40 L449.67,431.66 L449.77,416.10 L449.77,389.38 L450.37,389.38 L451.22,348.94 L451.60,389.38 L451.87,389.38 L452.04,347.75 L452.17,375.84 L452.42,367.61 L452.52,389.38 L452.82,389.38 L453.02,397.80 L453.52,405.12 L453.92,413.36 L454.17,432.57 L454.37,443.55 L454.57,452.70 L454.65,463.41 L454.87,463.41 L454.87,452.70 L455.02,443.55 L455.32,434.40 L455.62,431.66 L455.72,416.10 L455.72,389.38 L456.32,389.38 L457.17,348.94 L457.55,389.38 L457.82,389.38 L457.99,347.75 L458.12,375.84 L458.37,367.61 L458.47,389.38 L458.77,389.38 L458.97,397.80 L459.47,405.12 L459.87,413.36 L460.12,432.57 L460.32,443.55 L460.52,452.70 L460.60,463.41 L460.81,463.41 L460.81,452.70 L460.96,443.55 L461.26,434.40 L461.56,431.66 L461.66,416.10 L461.66,389.38 L462.26,389.38 L463.11,348.94 L463.49,389.38 L463.76,389.38 L463.93,347.75 L464.06,375.84 L464.31,367.61 L464.41,389.38 L464.71,389.38 L464.91,397.80 L465.41,405.12 L465.81,413.36 L466.06,432.57 L466.26,443.55 L466.46,452.70 L466.54,463.41 L466.75,463.41 L466.75,452.70 L466.90,443.55 L467.20,434.40 L467.50,431.66 L467.60,416.10 L467.60,389.38 L468.20,389.38 L469.05,348.94 L469.43,389.38 L469.70,389.38 L469.87,347.75 L470.00,375.84 L470.25,367.61 L470.35,389.38 L470.65,389.38 L470.85,397.80 L471.35,405.12 L471.75,413.36 L472.00,432.57 L472.20,443.55 L472.40,452.70 L472.48,463.41 L472.69,463.41 L472.69,452.70 L472.84,443.55 L473.14,434.40 L473.44,431.66 L473.55,416.10 L473.55,389.38 L474.14,389.38 L475.00,348.94 L475.38,389.38 L475.64,389.38 L475.81,347.75 L475.94,375.84 L476.19,367.61 L476.30,389.38 L476.59,389.38 L476.80,397.80 L477.30,405.12 L477.69,413.36 L477.94,432.57 L478.14,443.55 L478.34,452.70 L478.43,463.41 L478.64,463.41 L478.64,452.70 L478.79,443.55 L479.09,434.40 L479.39,431.66 L479.49,416.10 L479.49,389.38 L480.09,389.38 L480.94,348.94 L481.32,389.38 L481.59,389.38 L481.76,347.75 L481.89,375.84 L482.14,367.61 L482.24,389.38 L482.54,389.38 L482.74,397.80 L483.24,405.12 L483.64,413.36 L483.89,432.57 L484.09,443.55 L484.29,452.70 L484.37,463.41 L484.58,463.41 L484.58,452.70 L484.73,443.55 L485.03,434.40 L485.33,431.66 L485.43,416.10 L485.43,389.38 L486.03,389.38 L486.88,348.94 L487.26,389.38 L487.53,389.38 L487.70,347.75 L487.83,375.84 L488.08,367.61 L488.18,389.38 L488.48,389.38 L488.68,397.80 L489.18,405.12 L489.58,413.36 L489.83,432.57 L490.03,443.55 L490.23,452.70 L490.31,463.41 L490.52,463.41 L490.52,452.70 L490.67,443.55 L490.97,434.40 L491.27,431.66 L491.37,416.10 L491.37,389.38 L491.97,389.38 L492.82,348.94 L493.20,389.38 L493.47,389.38 L493.64,347.75 L493.77,375.84 L494.02,367.61 L494.12,389.38 L494.42,389.38 L494.62,397.80 L495.12,405.12 L495.52,413.36 L495.77,432.57 L495.97,443.55 L496.17,452.70 L496.25,463.41 L496.47,463.41 L496.47,452.70 L496.62,443.55 L496.92,434.40 L497.22,431.66 L497.32,416.10 L497.32,389.38 L497.92,389.38 L498.77,348.94 L499.15,389.38 L499.42,389.38 L499.59,347.75 L499.72,375.84 L499.97,367.61 L500.07,389.38 L500.37,389.38 L500.57,397.80 L501.07,405.12 L501.47,413.36 L501.72,432.57 L501.92,443.55 L502.12,452.70 L502.20,463.41 L502.41,463.41 L502.41,452.70 L502.56,443.55 L502.86,434.40 L503.16,431.66 L503.26,416.10 L503.26,389.38 L503.86,389.38 L504.71,348.94 L505.09,389.38 L505.36,389.38 L505.53,347.75 L505.66,375.84 L505.91,367.61 L506.01,389.38 L506.31,389.38 L506.51,397.80 L507.01,405.12 L507.41,413.36 L507.66,432.57 L507.86,443.55 L508.06,452.70 L508.14,463.41 L508.35,463.41 L508.35,452.70 L508.50,443.55 L508.80,434.40 L509.10,431.66 L509.20,416.10 L509.20,389.38 L509.80,389.38 L510.65,348.94 L511.03,389.38 L511.30,389.38 L511.47,347.75 L511.60,375.84 L511.85,367.61 L511.95,389.38 L512.25,389.38 L512.45,397.80 L512.95,405.12 L513.35,413.36 L513.60,432.57 L513.80,443.55 L514.00,452.70 L514.08,463.41 L514.29,463.41 L514.29,452.70 L514.44,443.55 L514.74,434.40 L515.04,431.66 L515.14,416.10 L515.14,389.38 L515.74,389.38 L516.59,348.94 L516.97,389.38 L517.24,389.38 L517.41,347.75 L517.54,375.84 L517.79,367.61 L517.89,389.38 L518.19,389.38 L518.39,397.80 L518.89,405.12 L519.29,413.36 L519.54,432.57 L519.74,443.55 L519.94,452.70 L520.02,463.41 L520.23,463.41 L520.23,452.70 L520.38,443.55 L520.68,434.40 L520.98,431.66 L521.08,416.10 L521.08,389.38 L521.68,389.38 L522.53,348.94 L522.91,389.38 L523.18,389.38 L523.35,347.75 L523.48,375.84 L523.73,367.61 L523.83,389.38 L524.13,389.38 L524.33,397.80 L524.83,405.12 L525.23,413.36 L525.48,432.57 L525.68,443.55 L525.88,452.70 L525.96,463.41 L526.17,463.41 L526.17,452.70 L526.32,443.55 L526.62,434.40 L526.92,431.66 L527.02,416.10 L527.02,389.38 L527.62,389.38 L528.47,348.94 L528.85,389.38 L529.12,389.38 L529.29,347.75 L529.42,375.84 L529.67,367.61 L529.77,389.38 L530.07,389.38 L530.27,397.80 L530.77,405.12 L531.17,413.36 L531.42,432.57 L531.62,443.55 L531.82,452.70 L531.90,463.41 L532.11,463.41 L532.11,452.70 L532.26,443.55 L532.56,434.40 L532.86,431.66 L532.96,416.10 L532.96,389.38 L533.56,389.38 L534.41,348.94 L534.79,389.38 L535.06,389.38 L535.23,347.75 L535.36,375.84 L535.61,367.61 L535.71,389.38 L536.01,389.38 L536.21,397.80 L536.71,405.12 L537.11,413.36 L537.36,432.57 L537.56,443.55 L537.76,452.70 L537.84,463.41 L538.05,463.41 L538.05,452.70 L538.20,443.55 L538.50,434.40 L538.80,431.66 L538.90,416.10 L538.90,389.38 L539.50,389.38 L540.35,348.94 L540.73,389.38 L541.00,389.38 L541.17,347.75 L541.30,375.84 L541.55,367.61 L541.65,389.38 L541.95,389.38 L542.15,397.80 L542.65,405.12 L543.05,413.36 L543.30,432.57 L543.50,443.55 L543.70,452.70 L543.78,463.41 L543.99,463.41 L543.99,452.70 L544.14,443.55 L544.44,434.40 L544.74,431.66 L544.84,416.10 L544.84,389.38 L545.44,389.38 L546.29,348.94 L546.67,389.38 L546.94,389.38 L547.11,347.75 L547.24,375.84 L547.49,367.61 L547.59,389.38 L547.89,389.38 L548.09,397.80 L548.59,405.12 L548.99,413.36 L549.24,432.57 L549.44,443.55 L549.64,452.70 L549.72,463.41 L549.94,463.41 L549.94,452.70 L550.09,443.55 L550.39,434.40 L550.69,431.66 L550.79,416.10 L550.79,389.38 L551.39,389.38 L552.24,348.94 L552.62,389.38 L552.89,389.38 L553.06,347.75 L553.19,375.84 L553.44,367.61 L553.54,389.38 L553.84,389.38 L554.04,397.80 L554.54,405.12 L554.94,413.36 L555.19,432.57 L555.39,443.55 L555.59,452.70 L555.67,463.41 L555.88,463.41 L555.88,452.70 L556.03,443.55 L556.33,434.40 L556.63,431.66 L556.73,416.10 L556.73,389.38 L557.33,389.38 L558.18,348.94 L558.56,389.38 L558.83,389.38 L559.00,347.75 L559.13,375.84 L559.38,367.61 L559.48,389.38 L559.78,389.38 L559.98,397.80 L560.48,405.12 L560.88,413.36 L561.13,432.57 L561.33,443.55 L561.53,452.70 L561.61,463.41 L561.82,463.41 L561.82,452.70 L561.97,443.55 L562.27,434.40 L562.57,431.66 L562.67,416.10 L562.67,389.38 L563.27,389.38 L564.12,348.94 L564.50,389.38 L564.77,389.38 L564.94,347.75 L565.07,375.84 L565.32,367.61 L565.42,389.38 L565.72,389.38 L565.92,397.80 L566.42,405.12 L566.82,413.36 L567.07,432.57 L567.27,443.55 L567.47,452.70 L567.55,463.41 L567.76,463.41 L567.76,452.70 L567.91,443.55 L568.21,434.40 L568.51,431.66 L568.61,416.10 L568.61,389.38 L569.21,389.38 L570.06,348.94 L570.44,389.38 L570.71,389.38 L570.88,347.75 L571.01,375.84 L571.26,367.61 L571.36,389.38 L571.66,389.38 L571.86,397.80 L572.36,405.12 L572.76,413.36 L573.01,432.57 L573.21,443.55 L573.41,452.70 L573.49,463.41 L573.70,463.41 L573.70,452.70 L573.85,443.55 L574.15,434.40 L574.45,431.66 L574.55,416.10 L574.55,389.38 L575.15,389.38 L576.00,348.94 L576.38,389.38 L576.65,389.38 L576.82,347.75 L576.95,375.84 L577.20,367.61 L577.30,389.38 L577.60,389.38 L577.80,397.80 L578.30,405.12 L578.70,413.36 L578.95,432.57 L579.15,443.55 L579.35,452.70 L579.43,463.41 L579.64,463.41 L579.64,452.70 L579.79,443.55 L580.09,434.40 L580.39,431.66 L580.49,416.10 L580.49,389.38 L581.09,389.38 L581.94,348.94 L582.32,389.38 L582.59,389.38 L582.76,347.75 L582.89,375.84 L583.14,367.61 L583.24,389.38 L583.54,389.38 L583.74,397.80 L584.24,405.12 L584.64,413.36 L584.89,432.57 L585.09,443.55 L585.29,452.70 L585.37,463.41 L585.58,463.41 L585.58,452.70 L585.73,443.55 L586.03,434.40 L586.33,431.66 L586.43,416.10 L586.43,389.38 L587.03,389.38 L587.88,348.94 L588.26,389.38 L588.53,389.38 L588.70,347.75 L588.83,375.84 L589.08,367.61 L589.18,389.38 L589.48,389.38 L589.68,397.80 L590.18,405.12 L590.58,413.36 L590.83,432.57 L591.03,443.55 L591.23,452.70 L591.31,463.41 L591.52,463.41 L591.52,452.70 L591.67,443.55 L591.97,434.40 L592.27,431.66 L592.37,416.10 L592.37,389.38 L592.97,389.38 L593.82,348.94 L594.20,389.38 L594.47,389.38 L594.64,347.75 L594.77,375.84 L595.02,367.61 L595.12,389.38 L595.42,389.38 L595.62,397.80 L596.12,405.12 L596.52,413.36 L596.77,432.57 L596.97,443.55 L597.17,452.70 L597.25,463.41 L597.46,463.41 L597.46,452.70 L597.61,443.55 L597.91,434.40 L598.21,431.66 L598.31,416.10 L598.31,389.38 L598.91,389.38 L599.76,348.94 L600.14,389.38 L600.41,389.38 L600.58,347.75 L600.71,375.84 L600.96,367.61 L601.06,389.38 L601.36,389.38 L601.56,397.80 L602.06,405.12 L602.46,413.36 L602.71,432.57 L602.91,443.55 L603.11,452.70 L603.19,463.41 L603.40,463.41 L603.40,452.70 L603.55,443.55 L603.85,434.40 L604.15,431.66 L604.25,416.10 L604.25,389.38 L604.85,389.38 L605.70,348.94 L606.08,389.38 L606.35,389.38 L606.52,347.75 L606.65,375.84 L606.90,367.61 L607.00,389.38 L607.30,389.38 L607.50,397.80 L608.00,405.12 L608.40,413.36 L608.65,432.57 L608.85,443.55 L609.05,452.70 L609.13,463.41 L609.34,463.41 L609.34,452.70 L609.49,443.55 L609.79,434.40 L610.09,431.66 L610.19,416.10 L610.19,389.38 L610.79,389.38 L611.64,348.94 L612.02,389.38 L612.29,389.38 L612.46,347.75 L612.59,375.84 L612.84,367.61 L612.94,389.38 L613.24,389.38 L613.44,397.80 L613.94,405.12 L614.34,413.36 L614.59,432.57 L614.79,443.55 L614.99,452.70 L615.07,463.41 L615.28,463.41 L615.28,452.70 L615.43,443.55 L615.73,434.40 L616.03,431.66 L616.13,416.10 L616.13,389.38 L616.73,389.38 L617.58,348.94 L617.96,389.38 L618.23,389.38 L618.40,347.75 L618.53,375.84 L618.78,367.61 L618.88,389.38 L619.18,389.38 L619.38,397.80 L619.88,405.12 L620.28,413.36 L620.53,432.57 L620.73,443.55 L620.93,452.70 L621.01,463.41 L621.22,463.41 L621.22,452.70 L621.37,443.55 L621.67,434.40 L621.97,431.66 L622.07,416.10 L622.07,389.38 L622.67,389.38 L623.52,348.94 L623.90,389.38 L624.17,389.38 L624.34,347.75 L624.47,375.84 L624.72,367.61 L624.82,389.38 L625.12,389.38 L625.32,397.80 L625.82,405.12 L626.22,413.36 L626.47,432.57 L626.67,443.55 L626.87,452.70 L626.95,463.41 L627.16,463.41 L627.16,452.70 L627.31,443.55 L627.61,434.40 L627.91,431.66 L628.01,416.10 L628.01,389.38 L628.61,389.38 L629.46,348.94 L629.84,389.38 L630.11,389.38 L630.28,347.75 L630.41,375.84 L630.66,367.61 L630.76,389.38 L631.06,389.38 L631.26,397.80 L631.76,405.12 L632.16,413.36 L632.41,432.57 L632.61,443.55 L632.81,452.70 L632.89,463.41 L633.10,463.41 L633.10,452.70 L633.25,443.55 L633.55,434.40 L633.85,431.66 L633.95,416.10 L633.95,389.38 L634.55,389.38 L635.40,348.94 L635.78,389.38 L636.05,389.38 L636.22,347.75 L636.35,375.84 L636.60,367.61 L636.70,389.38 L637.00,389.38 L637.20,397.80 L637.70,405.12 L638.10,413.36 L638.35,432.57 L638.55,443.55 L638.75,452.70 L638.83,463.41 L639.04,463.41 L639.04,452.70 L639.19,443.55 L639.49,434.40 L639.79,431.66 L639.89,416.10 L639.89,389.38 L640.49,389.38 L641.34,348.94 L641.72,389.38 L641.99,389.38 L642.16,347.75 L642.29,375.84 L642.54,367.61 L642.64,389.38 L642.94,389.38 L643.14,397.80 L643.64,405.12 L644.04,413.36 L644.29,432.57 L644.49,443.55 L644.69,452.70 L644.77,463.41 L644.97,463.41 L644.97,452.70 L645.12,443.55 L645.42,434.40 L645.72,431.66 L645.82,416.10 L645.82,389.38 L646.42,389.38 L647.27,348.94 L647.65,389.38 L647.92,389.38 L648.09,347.75 L648.22,375.84 L648.47,367.61 L648.57,389.38 L648.87,389.38 L649.07,397.80 L649.57,405.12 L649.97,413.36 L650.22,432.57 L650.42,443.55 L650.62,452.70 L650.70,463.41 L650.91,463.41 L650.91,452.70 L651.06,443.55 L651.36,434.40 L651.66,431.66 L651.76,416.10 L651.76,389.38 L652.36,389.38 L653.21,348.94 L653.59,389.38 L653.86,389.38 L654.03,347.75 L654.16,375.84 L654.41,367.61 L654.51,389.38 L654.81,389.38 L655.01,397.80 L655.51,405.12 L655.91,413.36 L656.16,432.57 L656.36,443.55 L656.56,452.70 L656.64,463.41 L656.85,463.41 L656.85,452.70 L657.00,443.55 L657.30,434.40 L657.60,431.66 L657.70,416.10 L657.70,389.38 L658.30,389.38 L659.15,348.94 L659.53,389.38 L659.80,389.38 L659.97,347.75 L660.10,375.84 L660.35,367.61 L660.45,389.38 L660.75,389.38 L660.95,397.80 L661.45,405.12 L661.85,413.36 L662.10,432.57 L662.30,443.55 L662.50,452.70 L662.58,463.41 L662.79,463.41 L662.79,452.70 L662.94,443.55 L663.24,434.40 L663.54,431.66 L663.64,416.10 L663.64,389.38 L664.24,389.38 L665.09,348.94 L665.47,389.38 L665.74,389.38 L665.91,347.75 L666.04,375.84 L666.29,367.61 L666.39,389.38 L666.69,389.38 L666.89,397.80 L667.39,405.12 L667.79,413.36 L668.04,432.57 L668.24,443.55 L668.44,452.70 L668.52,463.41 L668.73,463.41 L668.73,452.70 L668.88,443.55 L669.18,434.40 L669.48,431.66 L669.58,416.10 L669.58,389.38 L670.18,389.38 L671.03,348.94 L671.41,389.38 L671.68,389.38 L671.85,347.75 L671.98,375.84 L672.23,367.61 L672.33,389.38 L672.63,389.38 L672.83,397.80 L673.33,405.12 L673.73,413.36 L673.98,432.57 L674.18,443.55 L674.38,452.70 L674.46,463.41 L674.66,463.41 L674.66,452.70 L674.81,443.55 L675.11,434.40 L675.41,431.66 L675.51,416.10 L675.51,389.38 L676.11,389.38 L676.96,348.94 L677.34,389.38 L677.61,389.38 L677.78,347.75 L677.91,375.84 L678.16,367.61 L678.26,389.38 L678.56,389.38 L678.76,397.80 L679.26,405.12 L679.66,413.36 L679.91,432.57 L680.11,443.55 L680.31,452.70 L680.39,463.41 L680.60,463.41 L680.60,452.70 L680.75,443.55 L681.05,434.40 L681.35,431.66 L681.45,416.10 L681.45,389.38 L682.05,389.38 L682.90,348.94 L683.28,389.38 L683.55,389.38 L683.72,347.75 L683.85,375.84 L684.10,367.61 L684.20,389.38 L684.50,389.38 L684.70,397.80 L685.20,405.12 L685.60,413.36 L685.85,432.57 L686.05,443.55 L686.25,452.70 L686.33,463.41 L686.54,463.41 L686.54,452.70 L686.69,443.55 L686.99,434.40 L687.29,431.66 L687.39,416.10 L687.39,389.38 L687.99,389.38 L688.84,348.94 L689.22,389.38 L689.49,389.38 L689.66,347.75 L689.79,375.84 L690.04,367.61 L690.14,389.38 L690.44,389.38 L690.64,397.80 L691.14,405.12 L691.54,413.36 L691.79,432.57 L691.99,443.55 L692.19,452.70 L692.27,463.41 L692.48,463.41 L692.48,452.70 L692.63,443.55 L692.93,434.40 L693.23,431.66 L693.33,416.10 L693.33,389.38 L693.93,389.38 L694.78,348.94 L695.16,389.38 L695.43,389.38 L695.60,347.75 L695.73,375.84 L695.98,367.61 L696.08,389.38 L696.38,389.38 L696.58,397.80 L697.08,405.12 L697.48,413.36 L697.73,432.57 L697.93,443.55 L698.13,452.70 L698.21,463.41 L698.42,463.41 L698.42,452.70 L698.57,443.55 L698.87,434.40 L699.17,431.66 L699.27,416.10 L699.27,389.38 L699.87,389.38 L700.72,348.94 L701.10,389.38 L701.37,389.38 L701.54,347.75 L701.67,375.84 L701.92,367.61 L702.02,389.38 L702.32,389.38 L702.52,397.80 L703.02,405.12 L703.42,413.36 L703.67,432.57 L703.87,443.55 L704.07,452.70 L704.15,463.41 L704.35,463.41 L704.35,452.70 L704.50,443.55 L704.80,434.40 L705.10,431.66 L705.20,416.10 L705.20,389.38 L705.80,389.38 L706.65,348.94 L707.03,389.38 L707.30,389.38 L707.47,347.75 L707.60,375.84 L707.85,367.61 L707.95,389.38 L708.25,389.38 L708.45,397.80 L708.95,405.12 L709.35,413.36 L709.60,432.57 L709.80,443.55 L710.00,452.70 L710.08,463.41 L710.29,463.41 L710.29,452.70 L710.44,443.55 L710.74,434.40 L711.04,431.66 L711.14,416.10 L711.14,389.38 L711.74,389.38 L712.59,348.94 L712.97,389.38 L713.24,389.38 L713.41,347.75 L713.54,375.84 L713.79,367.61 L713.89,389.38 L714.19,389.38 L714.39,397.80 L714.89,405.12 L715.29,413.36 L715.54,432.57 L715.74,443.55 L715.94,452.70 L716.02,463.41 L716.23,463.41 L716.23,452.70 L716.38,443.55 L716.68,434.40 L716.98,431.66 L717.08,416.10 L717.08,389.38 L717.68,389.38 L718.53,348.94 L718.91,389.38 L719.18,389.38 L719.35,347.75 L719.48,375.84 L719.73,367.61 L719.83,389.38 L720.13,389.38 L720.33,397.80 L720.83,405.12 L721.23,413.36 L721.48,432.57 L721.68,443.55 L721.88,452.70 L721.96,463.41 L722.17,463.41 L722.17,452.70 L722.32,443.55 L722.62,434.40 L722.92,431.66 L723.02,416.10 L723.02,389.38 L723.62,389.38 L724.47,348.94 L724.85,389.38 L725.12,389.38 L725.29,347.75 L725.42,375.84 L725.67,367.61 L725.77,389.38 L726.07,389.38 L726.27,397.80 L726.77,405.12 L727.17,413.36 L727.42,432.57 L727.62,443.55 L727.82,452.70 L727.90,463.41 L728.10,463.41 L728.10,452.70 L728.25,443.55 L728.55,434.40 L728.85,431.66 L728.95,416.10 L728.95,389.38 L729.55,389.38 L730.40,348.94 L730.78,389.38 L731.05,389.38 L731.22,347.75 L731.35,375.84 L731.60,367.61 L731.70,389.38 L732.00,389.38 L732.20,397.80 L732.70,405.12 L733.10,413.36 L733.35,432.57 L733.55,443.55 L733.75,452.70 L733.83,463.41 L734.04,463.41 L734.04,452.70 L734.19,443.55 L734.49,434.40 L734.79,431.66 L734.89,416.10 L734.89,389.38 L735.49,389.38 L736.34,348.94 L736.72,389.38 L736.99,389.38 L737.16,347.75 L737.29,375.84 L737.54,367.61 L737.64,389.38 L737.94,389.38 L738.14,397.80 L738.64,405.12 L739.04,413.36 L739.29,432.57 L739.49,443.55 L739.69,452.70 L739.77,463.41 L739.98,463.41 L739.98,452.70 L740.13,443.55 L740.43,434.40 L740.73,431.66 L740.83,416.10 L740.83,389.38 L741.43,389.38 L742.28,348.94 L742.66,389.38 L742.93,389.38 L743.10,347.75 L743.23,375.84 L743.48,367.61 L743.58,389.38 L743.88,389.38 L744.08,397.80 L744.58,405.12 L744.98,413.36 L745.23,432.57 L745.43,443.55 L745.63,452.70 L745.71,463.41 L745.92,463.41 L745.92,452.70 L746.07,443.55 L746.37,434.40 L746.67,431.66 L746.77,416.10 L746.77,389.38 L747.37,389.38 L748.22,348.94 L748.60,389.38 L748.87,389.38 L749.04,347.75 L749.17,375.84 L749.42,367.61 L749.52,389.38 L749.82,389.38 L750.02,397.80 L750.52,405.12 L750.92,413.36 L751.17,432.57 L751.37,443.55 L751.57,452.70 L751.65,463.41 L751.87,463.41 L751.87,452.70 L752.02,443.55 L752.32,434.40 L752.62,431.66 L752.72,416.10 L752.72,389.38 L753.32,389.38 L754.17,348.94 L754.55,389.38 L754.82,389.38 L754.99,347.75 L755.12,375.84 L755.37,367.61 L755.47,389.38 L755.77,389.38 L755.97,397.80 L756.47,405.12 L756.87,413.36 L757.12,432.57 L757.32,443.55 L757.52,452.70 L757.60,463.41 L757.81,463.41 L757.81,452.70 L757.96,443.55 L758.26,434.40 L758.56,431.66 L758.66,416.10 L758.66,389.38 L759.26,389.38 L760.11,348.94 L760.49,389.38 L760.76,389.38 L760.93,347.75 L761.06,375.84 L761.45,396.20" fill="none" stroke="#1169b0" stroke-width="1.65" stroke-linejoin="round" stroke-linecap="round"/><rect x="19.65" y="340.45" width="777.75" height="130.10000000000002" fill="none" stroke="#444444" stroke-width="1.05" stroke-linejoin="round"/><g class="tx"><text x="39.70" y="336" text-anchor="middle" textLength="18.7" lengthAdjust="spacingAndGlyphs">1980</text><text x="122.80" y="336" text-anchor="middle" textLength="18.7" lengthAdjust="spacingAndGlyphs">1985</text><text x="205.90" y="336" text-anchor="middle" textLength="18.7" lengthAdjust="spacingAndGlyphs">1990</text><text x="289.00" y="336" text-anchor="middle" textLength="18.7" lengthAdjust="spacingAndGlyphs">1995</text><text x="372.10" y="336" text-anchor="middle" textLength="18.7" lengthAdjust="spacingAndGlyphs">2000</text><text x="455.20" y="336" text-anchor="middle" textLength="18.7" lengthAdjust="spacingAndGlyphs">2005</text><text x="538.30" y="336" text-anchor="middle" textLength="18.7" lengthAdjust="spacingAndGlyphs">2010</text><text x="621.40" y="336" text-anchor="middle" textLength="18.7" lengthAdjust="spacingAndGlyphs">2015</text><text x="704.50" y="336" text-anchor="middle" textLength="18.7" lengthAdjust="spacingAndGlyphs">2020</text><text x="787.60" y="336" text-anchor="middle" textLength="18.7" lengthAdjust="spacingAndGlyphs">2025</text></g><g class="ty"><text x="18.15" y="437" text-anchor="end" textLength="14.20" lengthAdjust="spacingAndGlyphs">−0.2</text><text x="18.15" y="400" text-anchor="end" textLength="4.00" lengthAdjust="spacingAndGlyphs">0</text><text x="18.15" y="364" text-anchor="end" textLength="10.00" lengthAdjust="spacingAndGlyphs">0.2</text></g><text class="an" x="56.5" y="354" textLength="18.7" lengthAdjust="spacingAndGlyphs">Cyclic</text><g stroke="#e6e9f0" stroke-width="1" fill="none"><line x1="39.40" y1="496.05" x2="39.40" y2="499.25"/><line x1="39.40" y1="625.20" x2="39.40" y2="622.00"/><line x1="122.50" y1="496.05" x2="122.50" y2="499.25"/><line x1="122.50" y1="625.20" x2="122.50" y2="622.00"/><line x1="205.60" y1="496.05" x2="205.60" y2="499.25"/><line x1="205.60" y1="625.20" x2="205.60" y2="622.00"/><line x1="288.70" y1="496.05" x2="288.70" y2="499.25"/><line x1="288.70" y1="625.20" x2="288.70" y2="622.00"/><line x1="371.80" y1="496.05" x2="371.80" y2="499.25"/><line x1="371.80" y1="625.20" x2="371.80" y2="622.00"/><line x1="454.90" y1="496.05" x2="454.90" y2="499.25"/><line x1="454.90" y1="625.20" x2="454.90" y2="622.00"/><line x1="538.00" y1="496.05" x2="538.00" y2="499.25"/><line x1="538.00" y1="625.20" x2="538.00" y2="622.00"/><line x1="621.10" y1="496.05" x2="621.10" y2="499.25"/><line x1="621.10" y1="625.20" x2="621.10" y2="622.00"/><line x1="704.20" y1="496.05" x2="704.20" y2="499.25"/><line x1="704.20" y1="625.20" x2="704.20" y2="622.00"/><line x1="787.30" y1="496.05" x2="787.30" y2="499.25"/><line x1="787.30" y1="625.20" x2="787.30" y2="622.00"/><line x1="20.15" y1="615.36" x2="23.85" y2="615.36"/><line x1="796.90" y1="615.36" x2="793.20" y2="615.36"/><line x1="20.15" y1="589.28" x2="23.85" y2="589.28"/><line x1="796.90" y1="589.28" x2="793.20" y2="589.28"/><line x1="20.15" y1="563.20" x2="23.85" y2="563.20"/><line x1="796.90" y1="563.20" x2="793.20" y2="563.20"/><line x1="20.15" y1="537.12" x2="23.85" y2="537.12"/><line x1="796.90" y1="537.12" x2="793.20" y2="537.12"/><line x1="20.15" y1="511.04" x2="23.85" y2="511.04"/><line x1="796.90" y1="511.04" x2="793.20" y2="511.04"/></g><path d="M58.80,562.90 L59.54,563.51 L60.28,563.63 L61.02,563.49 L61.76,563.60 L62.50,563.56 L63.24,562.31 L63.98,562.42 L64.72,562.83 L65.46,563.57 L66.20,563.49 L66.94,563.49 L67.68,563.57 L68.42,563.67 L69.16,562.33 L69.90,562.35 L70.64,562.97 L71.38,563.70 L72.12,563.61 L72.86,563.57 L73.60,563.70 L74.34,563.48 L75.08,562.51 L75.82,562.37 L76.56,562.85 L77.30,563.50 L78.04,563.54 L78.78,563.67 L79.52,563.51 L80.26,563.61 L81.00,562.45 L81.74,562.39 L82.48,562.95 L83.22,563.49 L83.96,563.48 L84.70,563.52 L85.44,563.63 L86.18,563.57 L86.92,562.38 L87.66,562.44 L88.40,562.93 L89.14,563.54 L89.88,563.66 L90.62,563.64 L91.36,563.53 L92.10,563.61 L92.84,562.43 L93.58,562.51 L94.32,563.00 L95.06,563.54 L95.80,563.71 L96.54,563.50 L97.28,563.57 L98.02,563.65 L98.76,562.34 L99.50,562.42 L100.24,562.83 L100.98,563.63 L101.72,563.65 L102.46,563.61 L103.20,563.68 L103.94,563.55 L104.68,562.47 L105.42,562.44 L106.16,562.96 L106.90,563.58 L107.64,563.67 L108.38,563.70 L109.12,563.58 L109.86,563.63 L110.60,562.31 L111.34,562.47 L112.08,562.98 L112.82,563.71 L113.56,563.67 L114.30,563.54 L115.04,563.56 L115.78,563.63 L116.52,562.31 L117.26,562.41 L118.00,562.86 L118.74,563.50 L119.48,563.48 L120.22,563.65 L120.96,563.50 L121.70,563.53 L122.44,562.39 L123.18,562.51 L123.92,562.84 L124.66,563.58 L125.40,563.60 L126.14,563.68 L126.88,563.67 L127.62,563.68 L128.36,562.37 L129.10,562.40 L129.84,562.91 L130.58,563.68 L131.32,563.70 L132.06,563.51 L132.80,563.51 L133.54,563.53 L134.28,562.36 L135.02,562.42 L135.76,562.96 L136.50,563.53 L137.24,563.47 L137.98,563.57 L138.72,563.56 L139.46,563.61 L140.20,563.05 L140.94,562.47 L141.68,562.94 L142.42,563.62 L143.16,563.63 L143.90,563.48 L144.64,563.69 L145.38,563.66 L146.12,563.03 L146.86,562.49 L147.60,562.91 L148.34,563.57 L149.08,563.49 L149.82,563.62 L150.56,563.48 L151.30,563.49 L152.04,562.87 L152.78,562.34 L153.52,562.90 L154.26,563.48 L155.00,563.47 L155.74,563.51 L156.48,563.49 L157.22,563.56 L157.96,562.83 L158.70,562.51 L159.44,562.97 L160.18,563.51 L160.92,563.53 L161.66,563.55 L162.40,563.56 L163.14,563.50 L163.88,563.02 L164.62,562.54 L165.36,562.93 L166.10,563.59 L166.84,563.49 L167.58,563.49 L168.32,563.55 L169.06,563.53 L169.80,563.02 L170.54,562.34 L171.28,562.31 L172.02,563.70 L172.76,563.60 L173.50,563.51 L174.24,563.60 L174.98,563.48 L175.72,562.95 L176.46,562.53 L177.20,562.51 L177.94,563.64 L178.68,563.53 L179.42,563.56 L180.16,563.51 L180.90,563.66 L181.64,562.95 L182.38,562.49 L183.12,562.38 L183.86,563.52 L184.60,563.66 L185.34,563.71 L186.08,563.67 L186.82,563.66 L187.56,563.02 L188.30,562.48 L189.04,562.35 L189.78,563.59 L190.52,563.56 L191.26,563.48 L192.00,563.48 L192.74,563.54 L193.48,562.88 L194.22,562.47 L194.96,562.53 L195.70,563.58 L196.44,563.69 L197.18,563.71 L197.92,563.70 L198.66,563.56 L199.40,562.87 L200.14,562.35 L200.88,562.35 L201.62,563.52 L202.36,563.62 L203.10,563.69 L203.84,563.67 L204.58,563.59 L205.32,562.98 L206.06,562.49 L206.80,562.32 L207.54,563.63 L208.28,563.69 L209.02,563.66 L209.76,563.65 L210.50,563.58 L211.24,562.86 L211.98,562.49 L212.72,562.38 L213.46,563.66 L214.20,563.70 L214.94,563.57 L215.68,563.57 L216.42,563.70 L217.16,562.99 L217.90,562.34 L218.64,562.33 L219.38,563.51 L220.12,563.69 L220.86,563.66 L221.60,563.51 L222.34,563.67 L223.08,563.06 L223.82,562.46 L224.56,562.38 L225.30,563.60 L226.04,563.50 L226.78,563.47 L227.52,563.70 L228.26,563.63 L229.00,562.95 L229.74,562.52 L230.48,562.40 L231.22,563.68 L231.96,563.67 L232.70,563.52 L233.44,563.53 L234.18,563.54 L234.92,562.88 L235.66,562.44 L236.40,562.36 L237.14,563.57 L237.88,563.50 L238.62,563.69 L239.36,563.55 L240.10,563.58 L240.84,562.96 L241.58,562.52 L242.32,562.40 L243.06,563.69 L243.80,563.59 L244.54,563.60 L245.28,563.60 L246.02,563.47 L246.76,562.93 L247.50,562.34 L248.24,562.30 L248.98,563.66 L249.72,563.51 L250.46,563.58 L251.20,563.64 L251.94,563.60 L252.68,562.90 L253.42,562.42 L254.16,562.43 L254.90,563.66 L255.64,563.50 L256.38,563.60 L257.12,563.53 L257.86,563.54 L258.60,563.01 L259.34,562.42 L260.08,562.43 L260.82,563.65 L261.56,563.69 L262.30,563.58 L263.04,563.62 L263.78,563.59 L264.52,562.94 L265.26,562.47 L266.00,562.41 L266.74,563.60 L267.48,563.58 L268.22,563.70 L268.96,563.64 L269.70,563.68 L270.44,563.05 L271.18,562.36 L271.92,562.43 L272.66,563.70 L273.40,563.67 L274.14,563.50 L274.88,563.50 L275.62,563.58 L276.36,562.84 L277.10,562.36 L277.84,562.32 L278.58,563.63 L279.32,563.66 L280.06,563.69 L280.80,563.51 L281.54,563.64 L282.28,562.98 L283.02,562.33 L283.76,562.51 L284.50,563.70 L285.24,563.52 L285.98,563.70 L286.72,563.57 L287.46,563.59 L288.20,563.06 L288.94,562.50 L289.68,562.34 L290.42,563.57 L291.16,563.59 L291.90,563.55 L292.64,563.52 L293.38,563.55 L294.12,562.99 L294.86,562.30 L295.60,562.43 L296.34,563.58 L297.08,563.47 L297.82,563.55 L298.56,563.62 L299.30,563.59 L300.04,562.84 L300.78,562.54 L301.52,562.49 L302.26,563.70 L303.00,563.50 L303.74,563.53 L304.48,563.48 L305.22,563.66 L305.96,562.88 L306.70,562.33 L307.44,562.40 L308.18,563.69 L308.92,563.67 L309.66,563.53 L310.40,563.51 L311.14,563.69 L311.88,562.96 L312.62,562.47 L313.36,562.32 L314.10,563.48 L314.84,563.64 L315.58,563.57 L316.32,563.49 L317.06,563.70 L317.80,562.97 L318.54,562.49 L319.28,562.32 L320.02,563.68 L320.76,563.49 L321.50,563.68 L322.24,563.58 L322.98,563.55 L323.72,562.95 L324.46,562.52 L325.20,562.36 L325.94,563.50 L326.68,563.60 L327.42,563.53 L328.16,563.50 L328.90,563.51 L329.64,562.83 L330.38,562.35 L331.12,562.37 L331.86,562.89 L332.60,563.65 L333.34,563.54 L334.08,563.59 L334.82,563.51 L335.56,562.90 L336.30,562.30 L337.04,562.36 L337.78,562.82 L338.52,563.65 L339.26,563.60 L340.00,563.52 L340.74,563.58 L341.48,563.04 L342.22,562.33 L342.96,562.50 L343.70,562.92 L344.44,563.59 L345.18,563.67 L345.92,563.56 L346.66,563.59 L347.40,562.99 L348.14,562.54 L348.88,562.38 L349.62,563.02 L350.36,563.64 L351.10,563.62 L351.84,563.57 L352.58,563.55 L353.32,562.83 L354.06,562.33 L354.80,562.32 L355.54,563.00 L356.28,563.53 L357.02,563.51 L357.76,563.49 L358.50,563.67 L359.24,563.03 L359.98,562.46 L360.72,562.37 L361.46,562.88 L362.20,563.54 L362.94,563.58 L363.68,563.51 L364.42,563.58 L365.16,562.88 L365.90,562.53 L366.64,562.53 L367.38,562.95 L368.12,563.53 L368.86,563.70 L369.60,563.54 L370.34,563.56 L371.08,562.82 L371.82,562.39 L372.56,562.41 L373.30,562.94 L374.04,563.52 L374.78,563.59 L375.52,563.47 L376.26,563.53 L377.00,562.84 L377.74,562.40 L378.48,562.31 L379.22,562.83 L379.96,563.54 L380.70,563.53 L381.44,563.61 L382.18,563.60 L382.92,563.00 L383.66,562.46 L384.40,562.47 L385.14,563.03 L385.88,563.56 L386.62,563.55 L387.36,563.71 L388.10,563.51 L388.84,562.99 L389.58,562.45 L390.32,562.31 L391.06,563.02 L391.80,563.68 L392.54,563.62 L393.28,563.65 L394.02,563.66 L394.76,562.85 L395.50,562.43 L396.24,562.42 L396.98,563.02 L397.72,563.66 L398.46,563.67 L399.20,563.61 L399.94,563.68 L400.68,562.98 L401.42,562.47 L402.16,562.35 L402.90,562.83 L403.64,563.50 L404.38,563.56 L405.12,563.49 L405.86,563.67 L406.60,562.95 L407.34,562.45 L408.08,562.45 L408.82,562.99 L409.56,563.59 L410.30,563.46 L411.04,563.67 L411.78,563.66 L412.52,562.94 L413.26,562.43 L414.00,562.46 L414.74,562.82 L415.48,563.66 L416.22,563.52 L416.96,563.46 L417.70,563.52 L418.44,563.66 L419.18,562.33 L419.92,562.50 L420.66,563.09 L421.40,563.59 L422.14,563.55 L422.88,563.58 L423.62,563.65 L424.36,563.68 L425.10,562.46 L425.84,562.47 L426.58,562.78 L427.32,563.46 L428.06,563.49 L428.80,563.69 L429.54,563.51 L430.28,563.62 L431.02,562.22 L431.76,562.23 L432.50,562.84 L433.24,563.67 L433.98,563.68 L434.72,563.67 L435.46,563.49 L436.20,563.60 L436.94,562.40 L437.68,562.40 L438.42,562.74 L439.16,563.80 L439.90,563.43 L440.64,563.85 L441.38,563.83 L442.12,563.31 L442.86,562.40 L443.60,562.61 L444.34,563.22 L445.08,563.56 L445.82,563.44 L446.56,563.40 L447.30,563.88 L448.04,563.40 L448.78,562.48 L449.52,562.17 L450.26,562.96 L451.00,563.92 L451.74,563.32 L452.48,563.83 L453.22,563.60 L453.96,563.89 L454.70,562.58 L455.44,562.20 L456.18,563.27 L456.92,563.58 L457.66,563.18 L458.40,563.15 L459.14,563.58 L459.88,563.55 L460.62,562.24 L461.36,562.08 L462.10,562.79 L462.84,563.41 L463.58,563.93 L464.32,563.08 L465.06,563.85 L465.80,563.95 L466.54,562.01 L467.28,562.88 L468.02,563.18 L468.76,564.04 L469.50,563.35 L470.24,563.44 L470.98,563.46 L471.72,564.19 L472.46,562.53 L473.20,562.25 L473.94,562.85 L474.68,563.30 L475.42,563.00 L476.16,563.06 L476.90,564.04 L477.64,563.30 L478.38,563.03 L479.12,562.07 L479.86,562.60 L480.00,563.60 L483.20,562.00 L486.40,562.50 L489.60,562.00 L492.80,564.10 L495.90,561.50 L498.60,564.70 L501.30,560.40 L502.80,564.10 L504.70,559.90 L506.60,564.70 L510.30,561.50 L512.90,562.50 L515.10,560.90 L517.20,565.20 L519.30,562.00 L523.60,563.60 L525.70,562.00 L527.80,563.30 L531.00,562.00 L534.20,562.50 L537.90,561.50 L540.00,564.70 L543.20,560.40 L545.40,563.60 L548.00,562.50 L550.10,563.60 L553.30,561.80 L556.00,563.10 L558.10,561.50 L560.20,564.10 L562.40,560.90 L563.40,565.20 L564.80,563.90 L565.80,560.70 L567.40,561.30 L570.10,566.00 L572.80,563.90 L575.40,557.50 L577.50,567.10 L579.70,562.80 L580.70,565.50 L583.20,557.50 L585.80,567.10 L587.10,560.70 L588.70,566.00 L590.30,561.30 L592.40,566.00 L594.00,560.70 L595.60,565.50 L598.30,559.70 L599.90,565.00 L603.00,559.70 L605.70,565.50 L607.30,562.30 L608.90,566.00 L611.50,560.70 L613.10,563.40 L615.30,560.70 L617.40,568.20 L618.24,561.23 L618.66,563.92 L619.50,557.00 L620.34,563.81 L620.76,560.88 L621.60,569.20 L622.36,561.65 L622.74,564.70 L623.50,556.50 L625.40,563.90 L626.90,559.70 L628.00,562.80 L629.60,558.60 L630.44,566.92 L630.86,564.11 L631.70,570.30 L633.30,561.30 L634.40,558.60 L636.00,557.50 L637.28,564.96 L637.92,562.39 L639.20,568.20 L640.80,563.00 L642.20,556.90 L642.80,564.34 L643.10,561.72 L643.70,567.80 L645.20,564.70 L646.60,566.00 L647.90,560.80 L649.20,564.70 L650.50,559.10 L652.20,567.40 L654.40,564.70 L656.60,559.50 L658.80,564.30 L660.60,557.70 L661.52,564.23 L661.98,561.80 L662.90,567.80 L664.90,559.10 L665.62,565.49 L665.98,563.31 L666.70,568.20 L667.38,559.84 L667.72,562.68 L668.40,556.40 L670.60,561.20 L671.36,568.38 L671.74,565.64 L672.50,572.60 L672.98,562.71 L673.22,566.28 L673.70,557.70 L674.22,562.84 L674.48,560.51 L675.00,567.40 L676.10,573.50 L676.62,563.30 L676.88,566.98 L677.40,558.20 L678.48,565.40 L679.02,562.57 L680.10,570.00 L680.86,558.87 L681.24,562.85 L682.00,553.40 L683.30,550.70 L684.60,548.60 L685.12,562.49 L685.38,557.35 L685.90,570.00 L686.54,576.58 L686.86,573.84 L687.50,581.40 L688.26,572.13 L688.64,576.33 L689.40,563.90 L691.20,556.00 L692.90,551.20 L693.50,570.03 L693.80,563.62 L694.40,577.90 L695.40,567.37 L695.90,572.00 L696.90,558.60 L697.30,565.60 L697.50,562.87 L697.90,570.00 L699.50,561.20 L700.50,569.90 L700.90,563.72 L701.10,566.24 L701.50,559.40 L701.94,565.49 L702.16,562.97 L702.60,569.90 L703.96,548.73 L704.64,556.34 L706.00,538.20 L706.68,585.26 L707.02,569.47 L707.70,604.00 L708.42,589.53 L708.78,595.60 L709.50,578.70 L709.82,564.31 L709.98,569.61 L710.30,556.60 L711.54,573.31 L712.16,566.40 L713.40,585.40 L714.16,532.80 L714.54,552.79 L715.30,502.10 L715.62,536.77 L715.78,522.88 L716.10,560.00 L716.38,551.97 L716.52,555.45 L716.80,545.50 L717.32,570.08 L717.58,559.40 L718.10,590.00 L718.38,583.26 L718.52,586.14 L718.80,578.00 L719.40,583.80 L719.92,550.00 L720.18,561.57 L720.70,535.60 L721.22,526.68 L721.48,530.14 L722.00,521.20 L722.80,562.94 L723.20,545.18 L724.00,595.20 L724.72,558.88 L725.08,571.31 L725.80,543.40 L726.56,575.48 L726.94,564.78 L727.70,588.00 L728.46,558.60 L728.84,570.17 L729.60,539.80 L730.08,554.16 L730.32,547.87 L730.80,566.00 L731.32,550.59 L731.58,557.21 L732.10,538.40 L732.70,566.65 L733.00,554.05 L733.60,590.90 L733.88,583.31 L734.02,586.41 L734.30,578.00 L734.58,583.06 L734.72,580.80 L735.00,587.40 L735.68,549.98 L736.02,565.80 L736.70,521.50 L737.42,559.17 L737.78,543.36 L738.50,587.40 L738.74,560.84 L738.86,570.89 L739.10,545.50 L739.66,583.79 L739.94,570.61 L740.50,600.40 L740.94,546.60 L741.16,565.88 L741.60,520.10 L742.12,528.54 L742.38,525.18 L742.90,534.10 L743.30,575.93 L743.50,559.28 L743.90,603.50 L744.40,596.00 L744.64,610.37 L744.76,604.85 L745.00,619.00 L745.60,564.76 L745.90,586.63 L746.50,527.90 L747.02,513.91 L747.28,519.63 L747.80,504.10 L748.52,555.64 L748.88,532.41 L749.60,600.90 L750.32,564.24 L750.68,579.53 L751.40,537.20 L751.64,544.91 L751.76,542.31 L752.00,548.00 L752.50,538.70 L753.10,577.68 L753.40,560.52 L754.00,610.20 L754.64,567.93 L754.96,584.28 L755.60,542.10 L756.32,564.38 L756.68,556.10 L757.40,576.60 L757.80,558.59 L758.00,564.83 L758.40,550.60 L758.80,571.00" fill="none" stroke="#166cb1" stroke-width="1.3" stroke-linejoin="round" stroke-linecap="round"/><rect x="19.65" y="495.45" width="777.75" height="130.34999999999997" fill="none" stroke="#444444" stroke-width="1.05" stroke-linejoin="round"/><g class="ty"><text x="18.15" y="618" text-anchor="end" textLength="12.20" lengthAdjust="spacingAndGlyphs">−20</text><text x="18.15" y="592" text-anchor="end" textLength="12.20" lengthAdjust="spacingAndGlyphs">−10</text><text x="18.15" y="566" text-anchor="end" textLength="4.00" lengthAdjust="spacingAndGlyphs">0</text><text x="18.15" y="540" text-anchor="end" textLength="8.00" lengthAdjust="spacingAndGlyphs">10</text><text x="18.15" y="514" text-anchor="end" textLength="8.00" lengthAdjust="spacingAndGlyphs">20</text></g><text class="an" x="56.5" y="509" textLength="31.0" lengthAdjust="spacingAndGlyphs">Residuals</text><line x1="28.1" y1="84.6" x2="37.9" y2="84.6" stroke="#1169b0" stroke-width="1.9"/></svg>
</body></html>
